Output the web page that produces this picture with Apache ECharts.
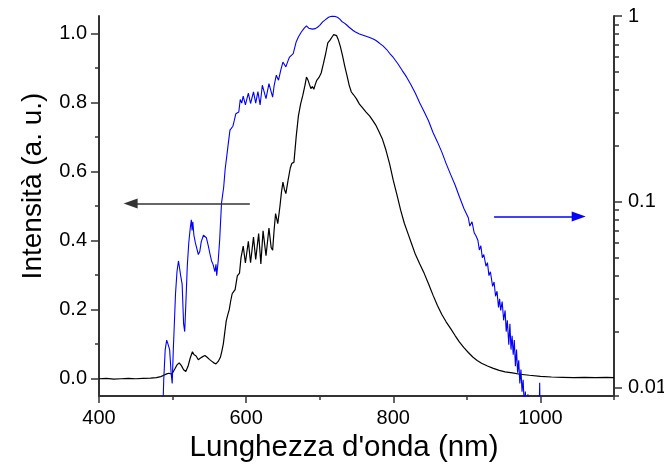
<!DOCTYPE html>
<html>
<head>
<meta charset="utf-8">
<script src="https://cdn.jsdelivr.net/npm/echarts@6/dist/echarts.min.js"></script>
<style>
  html, body { margin: 0; padding: 0; background: #fff; }
  #main { width: 664px; height: 465px; }
</style>
</head>
<body>
<div id="main"></div>
<script>
// black spectrum, linear scale (left axis)
var blackWl = [400, 410, 420, 430, 440, 450, 460, 470, 478, 484, 488, 492, 495, 499, 503, 506, 509, 512, 515, 518,
  521, 524, 527, 529, 532, 535, 538, 541, 544, 547, 550, 553, 556, 559, 562, 565, 567, 569, 571, 573,
  575, 577, 579, 581, 583, 585, 588, 591, 593, 596, 599, 603, 606, 610, 613, 617, 620, 623, 627, 631,
  634, 636, 638, 640, 643, 646, 648, 650, 652, 654, 657, 660, 662, 665, 668, 671, 674, 677, 680, 682,
  684, 686, 688, 690, 692, 694, 696, 699, 702, 705, 708, 711, 714, 717, 719, 721, 723, 725, 728, 731,
  734, 737, 740, 743, 746, 750, 754, 758, 763, 768, 772, 776, 780, 785, 790, 795, 800, 805, 810, 815,
  820, 825, 830, 836, 842, 848, 854, 860, 866, 872, 878, 884, 890, 896, 902, 908, 914, 920, 928, 936,
  944, 952, 962, 972, 985, 1000, 1015, 1030, 1045, 1060, 1075, 1090, 1100];
var blackInt = [0.000, 0.001, -0.001, 0.000, 0.001, 0.000, 0.001, 0.002, 0.003, 0.006, 0.010, 0.014, 0.016, 0.013, 0.028, 0.040, 0.046, 0.038, 0.026, 0.021,
  0.036, 0.060, 0.078, 0.070, 0.066, 0.055, 0.060, 0.064, 0.067, 0.062, 0.056, 0.051, 0.046, 0.043, 0.050, 0.062, 0.080, 0.101, 0.135, 0.168,
  0.185, 0.200, 0.225, 0.246, 0.252, 0.258, 0.298, 0.306, 0.350, 0.384, 0.335, 0.398, 0.336, 0.410, 0.345, 0.420, 0.332, 0.428, 0.356, 0.436,
  0.380, 0.372, 0.430, 0.478, 0.449, 0.500, 0.540, 0.569, 0.548, 0.536, 0.575, 0.610, 0.623, 0.627, 0.700, 0.760, 0.795, 0.820, 0.850, 0.873,
  0.865, 0.852, 0.840, 0.846, 0.838, 0.852, 0.864, 0.872, 0.885, 0.912, 0.940, 0.972, 0.980, 0.990, 0.996, 0.994, 0.993, 0.983, 0.962, 0.935,
  0.905, 0.878, 0.850, 0.830, 0.822, 0.810, 0.795, 0.785, 0.772, 0.760, 0.748, 0.735, 0.718, 0.695, 0.662, 0.622, 0.574, 0.532, 0.488, 0.450,
  0.420, 0.390, 0.360, 0.332, 0.305, 0.274, 0.242, 0.212, 0.186, 0.164, 0.145, 0.125, 0.106, 0.090, 0.076, 0.063, 0.053, 0.045, 0.037, 0.030,
  0.024, 0.020, 0.017, 0.013, 0.010, 0.007, 0.005, 0.004, 0.003, 0.004, 0.003, 0.004, 0.003];

// blue spectrum, log scale (right axis)
var blueWl = [486, 488, 490, 492, 494, 496, 498, 499.5, 501, 502, 504, 506, 508, 509.5, 511, 513, 515, 516.5, 518, 520,
  522, 524, 525.5, 526.5, 527.5, 529, 531, 533, 535, 537, 539, 542, 544, 546, 548.5, 551, 553, 555, 557.5, 559,
  560, 562, 564, 566.5, 569.5, 571.5, 573.5, 576, 578, 580, 582, 584, 586, 588, 590, 592, 594, 596, 599, 603,
  606, 610, 613, 616, 619, 622, 627, 631, 636, 638, 641, 644, 647, 650, 654, 657, 659, 664, 668, 671,
  675, 679, 682, 685, 687, 690, 694, 697, 700, 704, 707, 709, 712, 716, 718, 721, 724, 727, 730, 733,
  736, 740, 745, 748, 754, 760, 766, 772, 776, 781, 786, 791, 795, 800, 806, 812, 818, 824, 830, 836,
  842, 848, 854, 860, 866, 872, 878, 884, 890, 896, 902, 904, 907, 910, 912, 915, 917, 919, 921, 923,
  926, 928, 930, 932, 935, 937, 939, 941, 943, 944.5, 946, 948, 950, 952, 953.5, 955, 957, 958.5, 960, 961.5,
  963, 964.5, 966, 967.5, 969, 970.5, 972, 973.5, 975, 976.5, 978, 979.5, 981, 983, 985, 988, 991, 994, 997, 999,
  1000, 1002];
var blueInt = [0.006, 0.011, 0.016, 0.018, 0.017, 0.016, 0.012, 0.0105, 0.016, 0.020, 0.032, 0.042, 0.048, 0.044, 0.040, 0.036, 0.022, 0.020, 0.028, 0.045,
  0.060, 0.072, 0.080, 0.070, 0.078, 0.066, 0.060, 0.056, 0.052, 0.054, 0.061, 0.066, 0.067, 0.064, 0.058, 0.052, 0.048, 0.046, 0.042, 0.046,
  0.040, 0.048, 0.062, 0.098, 0.120, 0.150, 0.174, 0.210, 0.243, 0.248, 0.255, 0.275, 0.298, 0.300, 0.304, 0.355, 0.340, 0.370, 0.332, 0.384,
  0.338, 0.390, 0.340, 0.392, 0.332, 0.424, 0.359, 0.433, 0.366, 0.420, 0.480, 0.451, 0.510, 0.565, 0.532, 0.575, 0.601, 0.628, 0.725, 0.770,
  0.820, 0.860, 0.885, 0.860, 0.845, 0.850, 0.855, 0.870, 0.891, 0.930, 0.950, 0.968, 0.985, 0.998, 1.000, 0.995, 0.985, 0.965, 0.935, 0.918,
  0.900, 0.870, 0.838, 0.822, 0.800, 0.786, 0.771, 0.755, 0.740, 0.715, 0.690, 0.660, 0.630, 0.598, 0.555, 0.510, 0.470, 0.426, 0.384, 0.340,
  0.305, 0.272, 0.236, 0.210, 0.185, 0.160, 0.140, 0.123, 0.106, 0.092, 0.082, 0.074, 0.078, 0.068, 0.066, 0.062, 0.055, 0.058, 0.050, 0.052,
  0.045, 0.047, 0.040, 0.042, 0.035, 0.037, 0.031, 0.033, 0.027, 0.030, 0.026, 0.029, 0.023, 0.026, 0.020, 0.023, 0.017, 0.022, 0.016, 0.019,
  0.015, 0.018, 0.013, 0.016, 0.012, 0.014, 0.0105, 0.0125, 0.0095, 0.011, 0.008, 0.0095, 0.007, 0.0092, 0.006, 0.0085, 0.005, 0.007, 0.004, 0.0106,
  0.005, 0.004];

// ticks
var xMajor = [400, 600, 800, 1000];
var xMinor = [500, 700, 900, 1100];
var leftMajor = [0, 0.2, 0.4, 0.6, 0.8, 1.0];
var leftMinor = [0.1, 0.3, 0.5, 0.7, 0.9];
var rightMajor = [0.01, 0.1, 1];
var rightMinor = [0.009, 0.02, 0.03, 0.04, 0.05, 0.06, 0.07, 0.08, 0.09, 0.2, 0.3, 0.4, 0.5, 0.6, 0.7, 0.8, 0.9];

// arrows: [x0, y0, x1, y1]
var blackArrow = [605, 0.507, 443, 0.507];
var blueArrow = [937, 0.0832, 1052, 0.0832];

var font = '"Liberation Sans", Arial, sans-serif';
var axisColor = '#333';
var logMin = Math.log10(0.009);

function pairs(xs, ys) {
    return xs.map(function (x, i) { return [x, ys[i]]; });
}
function toLog(vals) {
    return vals.map(function (v) { return Math.log10(v); });
}
function arrowData(a) {
    return [[{coord: [a[0], a[1]]}, {coord: [a[2], a[3]]}]];
}

var tickStyle = {color: axisColor, width: 1.5};

var chart = echarts.init(document.getElementById('main'));
var option = {
    animation: false,
    backgroundColor: '#fff',
    textStyle: {fontFamily: font},
    grid: {left: 99, right: 50, top: 16, bottom: 69, containLabel: false, outerBoundsMode: 'none'},
    xAxis: [
        {
            type: 'value', min: 400, max: 1100, position: 'bottom',
            name: "Lunghezza d'onda (nm)", nameLocation: 'middle', nameGap: 33,
            nameTextStyle: {fontSize: 29.5, color: '#000', fontFamily: font, padding: [0, 25, 0, 0]},
            axisLine: {onZero: false, lineStyle: {color: axisColor, width: 2}},
            axisTick: {customValues: xMajor, length: 7, lineStyle: tickStyle},
            axisLabel: {
                customValues: xMajor, fontSize: 20, color: '#000', margin: 12, fontFamily: font,
                formatter: function (v) { return String(v); }
            },
            splitLine: {show: false}
        },
        {
            type: 'value', min: 400, max: 1100, position: 'bottom',
            axisLine: {show: false, onZero: false},
            axisTick: {customValues: xMinor, length: 4, lineStyle: tickStyle},
            axisLabel: {show: false},
            splitLine: {show: false}
        }
    ],
    yAxis: [
        {
            type: 'value', min: -0.05, max: 1.05, position: 'left',
            name: 'Intensità (a. u.)', nameLocation: 'middle', nameRotate: 90, nameGap: 52,
            nameTextStyle: {fontSize: 28, color: '#000', fontFamily: font, padding: [0, 0, 0, 40]},
            axisLine: {show: true, onZero: false, lineStyle: {color: axisColor, width: 2}},
            axisTick: {show: true, customValues: leftMajor, length: 8, lineStyle: tickStyle},
            axisLabel: {
                customValues: leftMajor, fontSize: 20, color: '#000', margin: 12, fontFamily: font,
                formatter: function (v) { return v.toFixed(1); }
            },
            splitLine: {show: false}
        },
        {
            type: 'value', min: -0.05, max: 1.05, position: 'left',
            axisLine: {show: false, onZero: false},
            axisTick: {show: true, customValues: leftMinor, length: 4, lineStyle: tickStyle},
            axisLabel: {show: false},
            splitLine: {show: false}
        },
        {
            type: 'log', min: 0.009, max: 1, position: 'right',
            axisLine: {show: true, onZero: false, lineStyle: {color: axisColor, width: 2}},
            axisTick: {show: false},
            axisLabel: {show: false},
            splitLine: {show: false}
        },
        {
            type: 'value', min: logMin, max: 0, position: 'right',
            axisLine: {show: false, onZero: false},
            axisTick: {show: true, customValues: toLog(rightMajor), length: 8, lineStyle: tickStyle},
            axisLabel: {
                customValues: toLog(rightMajor), fontSize: 20, color: '#000', margin: 14, fontFamily: font,
                formatter: function (v) { return String(Math.pow(10, Math.round(v))); }
            },
            splitLine: {show: false}
        },
        {
            type: 'value', min: logMin, max: 0, position: 'right',
            axisLine: {show: false, onZero: false},
            axisTick: {show: true, customValues: toLog(rightMinor), length: 5, lineStyle: tickStyle},
            axisLabel: {show: false},
            splitLine: {show: false}
        }
    ],
    series: [
        {
            name: 'lineare', type: 'line', xAxisIndex: 0, yAxisIndex: 0,
            data: pairs(blackWl, blackInt),
            showSymbol: false, clip: true,
            lineStyle: {color: '#000', width: 1.2},
            itemStyle: {color: '#000'},
            markLine: {
                silent: true, symbol: ['none', 'triangle'], symbolSize: [10, 14],
                label: {show: false},
                lineStyle: {color: '#333', width: 1.5, type: 'solid'},
                data: arrowData(blackArrow)
            }
        },
        {
            name: 'log', type: 'line', xAxisIndex: 0, yAxisIndex: 2,
            data: pairs(blueWl, blueInt),
            showSymbol: false, clip: true,
            lineStyle: {color: '#0000ff', width: 1.1},
            itemStyle: {color: '#0000ff'},
            markLine: {
                silent: true, symbol: ['none', 'triangle'], symbolSize: [10, 14],
                label: {show: false},
                lineStyle: {color: '#0000ff', width: 1.5, type: 'solid'},
                data: arrowData(blueArrow)
            }
        }
    ]
};
chart.setOption(option);
</script>
</body>
</html>
